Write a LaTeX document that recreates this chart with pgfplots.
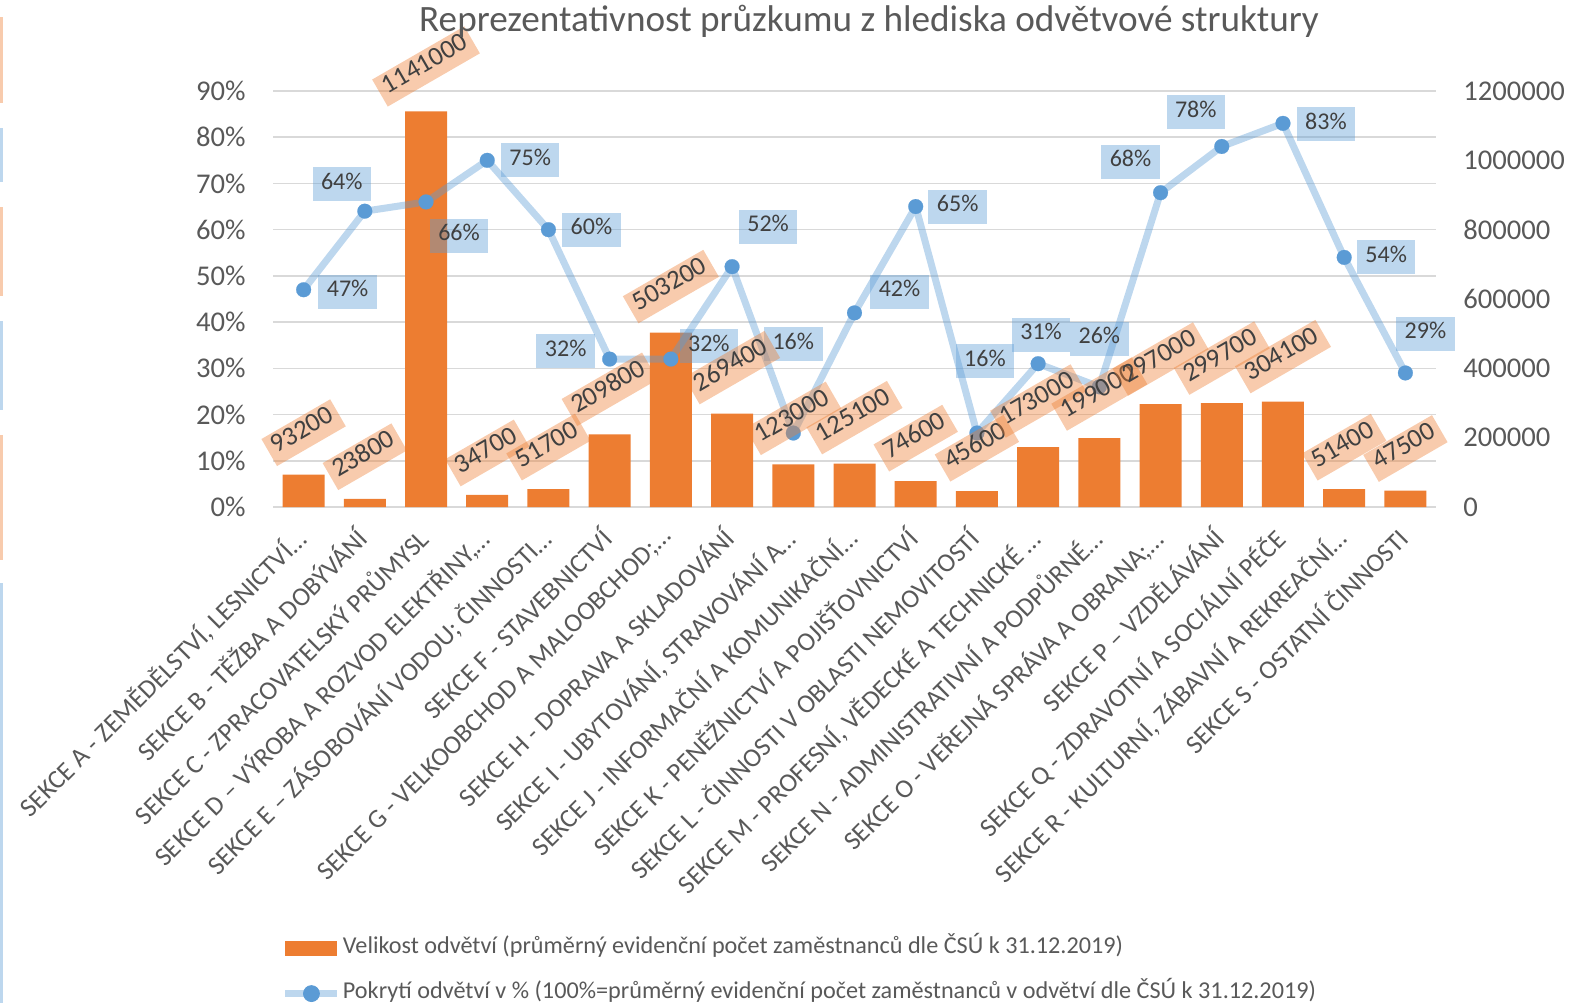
\documentclass[border=0pt]{standalone}
\usepackage{pgfplots}
\pgfplotsset{compat=1.18}
\usepackage{pgfplotstable}
\usepackage{fontspec}
\setmainfont{Carlito}
\definecolor{barorange}{HTML}{ED7D31}
\definecolor{lineblue}{HTML}{5B9BD5}
\definecolor{gridgray}{HTML}{D9D9D9}
\definecolor{textgray}{HTML}{595959}
\definecolor{labeltext}{HTML}{404040}
\definecolor{stripor}{HTML}{F8CBAD}
\definecolor{stripbl}{HTML}{BDD7EE}

\pgfplotstableread{
x v off
0 93200 21
1 23800 21
2 1141000 22.5
3 34700 21
4 51700 21
5 209800 22.5
6 503200 23
7 269400 23
8 123000 23
9 125100 23
10 74600 21.5
11 45600 21.5
12 173000 23
13 199000 22
14 297000 22.5
15 299700 22.5
16 304100 22.5
17 51400 21
18 47500 21
}\bardata

\pgfplotstableread{
x p dx dy
0 47 22 -1
1 64 -11.5 13.5
2 66 16.5 -17
3 75 21.5 0
4 60 21.5 0
5 32 -22 4
6 32 19 6.5
7 52 18 20
8 16 0 44.5
9 42 22.5 10.5
10 65 21 0
11 16 4 36
12 31 1.5 14.5
13 26 0 24
14 68 -15 15.5
15 78 -13 17
16 83 21.5 -0.5
17 54 21 0
18 29 10 19.5
}\pctdata

\newcommand{\ticksize}{\fontsize{14.3}{17}\selectfont}
\newcommand{\catsize}{\fontsize{13.2}{16}\selectfont}

\pgfplotsset{
  base/.style={
    at={(136.5pt,248pt)}, anchor=south west,
    scale only axis, width=581.5pt, height=208pt,
    xmin=-0.5, xmax=18.5, clip=false,
    /pgf/number format/assume math mode=true,
    major tick length=0pt,
    axis line style={draw=none},
  },
}

\begin{document}
\begin{tikzpicture}
\useasboundingbox (0,0) rectangle (792.5pt,501.5pt);
% decorative strips at the left edge
\fill[stripor] (0,450pt) rectangle (1.5pt,493pt);
\fill[stripbl] (0,410.5pt) rectangle (1.5pt,437.5pt);
\fill[stripor] (0,353.5pt) rectangle (1.5pt,398pt);
\fill[stripbl] (0,296.5pt) rectangle (1.5pt,341pt);
\fill[stripor] (0,221.5pt) rectangle (1.5pt,284pt);
\fill[stripbl] (0,0pt) rectangle (1.5pt,210pt);

% grid
\begin{axis}[base, ymin=0, ymax=90, ytick={0,10,20,30,40,50,60,70,80,90},
  yticklabels={}, xtick=\empty, ymajorgrids,
  grid style={gridgray, line width=0.75pt}]
\end{axis}

% bars + right axis + categories + legend
\begin{axis}[base, ymin=0, ymax=1200000,
  axis y line*=right, axis x line*=bottom,
  scaled y ticks=false,
  ytick={0,200000,400000,600000,800000,1000000,1200000},
  yticklabels={0,200000,400000,600000,800000,1000000,1200000},
  yticklabel style={anchor=west, inner sep=0pt, xshift=13.5pt, font=\ticksize, text=textgray},
  xtick={0,1,2,3,4,5,6,7,8,9,10,11,12,13,14,15,16,17,18},
  xticklabels={
    {SEKCE A - ZEMĚDĚLSTVÍ, LESNICTVÍ…},
    {SEKCE B - TĚŽBA A DOBÝVÁNÍ},
    {SEKCE C - ZPRACOVATELSKÝ PRŮMYSL},
    {SEKCE D – VÝROBA A ROZVOD ELEKTŘINY,…},
    {SEKCE E – ZÁSOBOVÁNÍ VODOU; ČINNOSTI…},
    {SEKCE F - STAVEBNICTVÍ},
    {SEKCE G - VELKOOBCHOD A MALOOBCHOD;…},
    {SEKCE H - DOPRAVA A SKLADOVÁNÍ},
    {SEKCE I - UBYTOVÁNÍ, STRAVOVÁNÍ A…},
    {SEKCE J - INFORMAČNÍ A KOMUNIKAČNÍ…},
    {SEKCE K - PENĚŽNICTVÍ A POJIŠŤOVNICTVÍ},
    {SEKCE L - ČINNOSTI V OBLASTI NEMOVITOSTÍ},
    {SEKCE M - PROFESNÍ, VĚDECKÉ A TECHNICKÉ …},
    {SEKCE N - ADMINISTRATIVNÍ A PODPŮRNÉ…},
    {SEKCE O - VEŘEJNÁ SPRÁVA A OBRANA;…},
    {SEKCE P – VZDĚLÁVÁNÍ},
    {SEKCE Q - ZDRAVOTNÍ A SOCIÁLNÍ PÉČE},
    {SEKCE R - KULTURNÍ, ZÁBAVNÍ A REKREAČNÍ…},
    {SEKCE S - OSTATNÍ ČINNOSTI}},
  xticklabel style={xshift=-5.5pt, yshift=-9pt, rotate=45, anchor=north east, inner sep=0pt, font=\catsize, text=textgray},
  legend cell align=left,
  legend style={at={(0.0077,-1.037)}, anchor=north west, draw=none, fill=none,
    inner sep=0pt, outer sep=0pt, font=\fontsize{12.1}{14.5}\selectfont, text=textgray,
    row sep=12.6pt, column sep=1pt,
    nodes={inner sep=0pt, text height=0.75em, text depth=0.25em}},
  ]
\addplot[ybar, bar width=21pt, fill=barorange, draw=none,
  legend image code/.code={\fill[barorange] (0pt,-3.6pt) rectangle (26pt,3.6pt);}]
  table[x=x, y=v] \bardata;
\addlegendentry{Velikost odvětví (průměrný evidenční počet zaměstnanců dle ČSÚ k 31.12.2019)}
\addlegendimage{legend image code/.code={\draw[lineblue, line width=3.5pt, draw opacity=0.4] (0pt,0pt) -- (26pt,0pt); \fill[lineblue] (13pt,0pt) circle (4pt);}}
\addlegendentry{Pokrytí odvětví v \% (100\%=průměrný evidenční počet zaměstnanců v odvětví dle ČSÚ k 31.12.2019)}
\end{axis}

% line + left axis + percent labels
\begin{axis}[base, ymin=0, ymax=90,
  axis y line*=left, axis x line*=bottom,
  ytick={0,10,20,30,40,50,60,70,80,90},
  yticklabels={0\%,10\%,20\%,30\%,40\%,50\%,60\%,70\%,80\%,90\%},
  yticklabel style={anchor=east, inner sep=0pt, xshift=-13.5pt, font=\ticksize, text=textgray},
  xtick=\empty]
\addplot[color=lineblue, line width=3.5pt, draw opacity=0.4, line join=round,
  mark=*, mark size=3.7pt,
  mark options={line width=0.1pt, draw=lineblue, draw opacity=1, fill=lineblue, fill opacity=1},
  point meta=explicit symbolic,
  visualization depends on={\thisrow{dx}\as\labdx},
  visualization depends on={\thisrow{dy}\as\labdy},
  nodes near coords={\pgfplotspointmeta\%},
  nodes near coords style={anchor=center, xshift=\labdx*1pt, yshift=\labdy*1pt,
    fill=lineblue, fill opacity=0.4, draw opacity=0, text opacity=1, text=labeltext,
    font=\fontsize{12}{14}\selectfont, inner xsep=4.25pt, inner ysep=3.5pt,
    text height=0.75em, text depth=0.25em}]
  table[x=x, y=p, meta=p] \pctdata;
\end{axis}

% bar value labels on top
\begin{axis}[base, ymin=0, ymax=1200000, hide axis]
\addplot[draw=none, mark=none,
  point meta=explicit symbolic,
  visualization depends on={\thisrow{off}\as\laboff},
  nodes near coords={\pgfplotspointmeta},
  nodes near coords style={yshift=\laboff*1pt, rotate=30, anchor=center,
    fill=barorange, fill opacity=0.4, text opacity=1, text=labeltext,
    font=\fontsize{13.3}{16}\selectfont, inner xsep=3pt, inner ysep=2.8pt,
    text height=0.75em, text depth=0.25em}]
  table[x=x, y=v, meta=v] \bardata;
\end{axis}

\node[anchor=base, font=\fontsize{18.6}{22}\selectfont, text=textgray] at (434.5pt,485.5pt)
  {Reprezentativnost průzkumu z hlediska odvětvové struktury};
\end{tikzpicture}
\end{document}
